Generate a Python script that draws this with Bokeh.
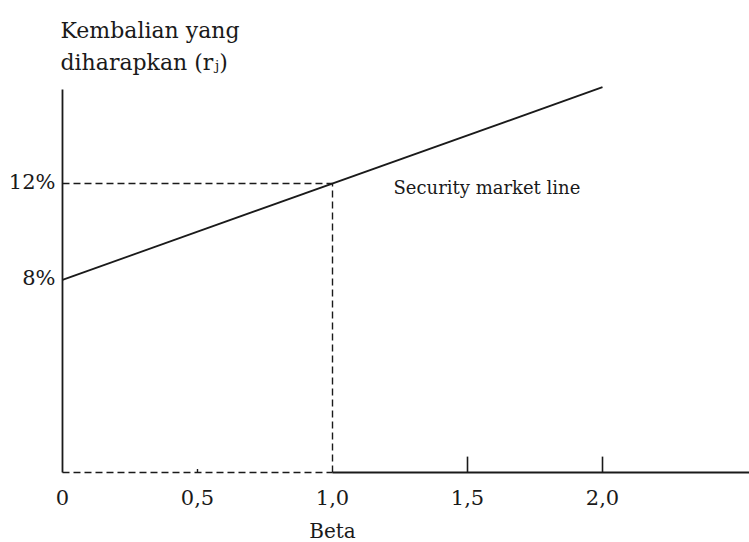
from bokeh.plotting import figure
from bokeh.models import Range1d
from bokeh.core.properties import value
from bokeh.embed import file_html
from bokeh.resources import INLINE

# ---- data ----
RF = 8.0          # risk-free rate (%)
RM = 12.0         # market return (%)
BETA_M = 1.0      # market beta
SML_BETA = [0.0, 2.0]
SML_RET = [RF + (RM - RF) * b for b in SML_BETA]   # 8% -> 16%
X_TICKS = [0.0, 0.5, 1.0, 1.5, 2.0]
X_LABELS = ["0", "0,5", "1,0", "1,5", "2,0"]
Y_TICKS = [8, 12]
Y_LABELS = ["8%", "12%"]
BIG_TICKS = [1.5, 2.0]
SMALL_TICKS = [0.5]
X_MIN, X_MAX = -0.2296, 2.5444
Y_MIN, Y_MAX = -2.907, 19.601
AXIS_TOP = 15.9

FONT = value("DejaVu Serif")
INK = "#1a1a1a"

p = figure(width=749, height=542, output_backend="svg", toolbar_location=None,
           x_range=Range1d(X_MIN, X_MAX), y_range=Range1d(Y_MIN, Y_MAX),
           x_axis_location=None, y_axis_location=None,
           min_border_left=0, min_border_right=0, min_border_top=0, min_border_bottom=0)
p.outline_line_color = None
p.grid.visible = False
p.background_fill_color = "white"

# y axis line
p.line([0, 0], [0, AXIS_TOP], line_color=INK, line_width=1.8)
# x axis line: dashed up to beta=1, solid after
p.line([0, BETA_M], [0, 0], line_color=INK, line_width=1.4, line_dash="7 4")
p.line([BETA_M, X_MAX], [0, 0], line_color=INK, line_width=1.8)
# tick marks
p.segment(x0=BIG_TICKS, y0=[0] * len(BIG_TICKS), x1=BIG_TICKS, y1=[0.66] * len(BIG_TICKS),
          line_color=INK, line_width=1.6)
p.segment(x0=SMALL_TICKS, y0=[0], x1=SMALL_TICKS, y1=[0.15], line_color=INK, line_width=1.4)

# dashed guides to market point
p.line([0, BETA_M], [RM, RM], line_color=INK, line_width=1.4, line_dash="7 4")
p.line([BETA_M, BETA_M], [0, RM], line_color=INK, line_width=1.4, line_dash="7 4")

# security market line
p.line(SML_BETA, SML_RET, line_color=INK, line_width=1.8)

# y tick labels
p.text(x=[0] * len(Y_TICKS), y=Y_TICKS, text=Y_LABELS, text_align="right",
       text_baseline="middle", x_offset=-7, y_offset=-2, text_font=FONT,
       text_font_size="21px", text_color=INK)

# x tick labels and axis title
p.text(x=X_TICKS, y=[0] * len(X_TICKS), text=X_LABELS, text_align="center",
       text_baseline="top", y_offset=18, text_font=FONT, text_font_size="21px", text_color=INK)
p.text(x=[BETA_M], y=[0], text=["Beta"], text_align="center", text_baseline="alphabetic",
       y_offset=59, text_font=FONT, text_font_size="20px", text_color=INK)

# SML label
p.text(x=[BETA_M], y=[RM], text=["Security market line"], text_align="left",
       text_baseline="alphabetic", x_offset=61, y_offset=4, text_font=FONT,
       text_font_size="18px", text_color=INK)

# y axis title (two lines)
p.text(x=[0, 0], y=[Y_MAX, Y_MAX], text=["Kembalian yang", "diharapkan (r\u2c7c)"],
       text_align="left", text_baseline="alphabetic", x_offset=-2, y_offset=[30, 62],
       text_font=FONT, text_font_size="22px", text_color=INK)

open("out.html", "w").write(file_html(p, INLINE))
